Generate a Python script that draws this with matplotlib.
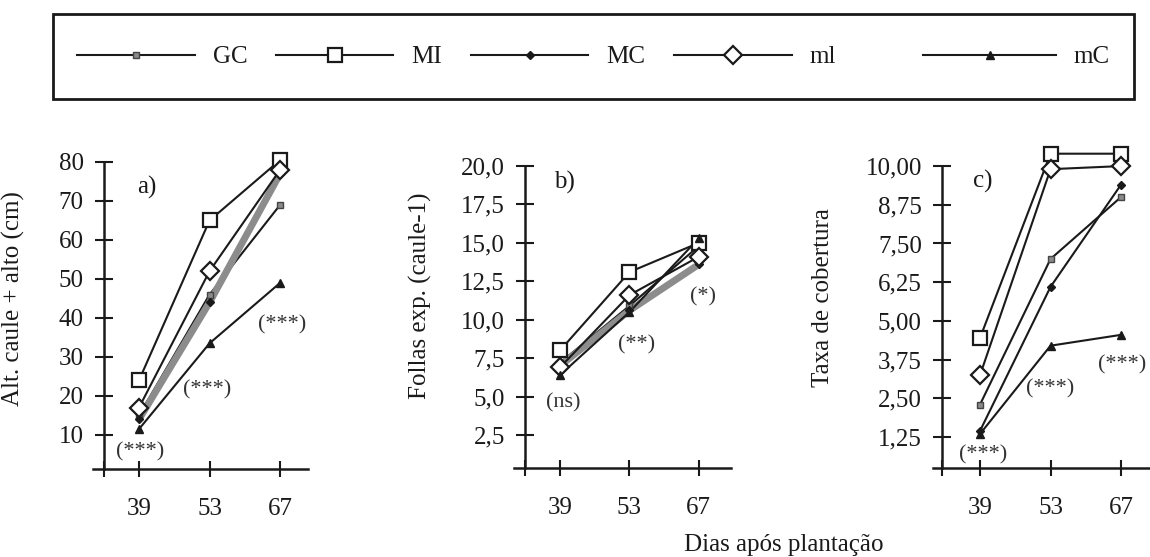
import matplotlib
matplotlib.use('Agg')
import matplotlib.pyplot as plt
from matplotlib.lines import Line2D
from matplotlib.patches import Rectangle

plt.rcParams['font.family'] = ['Liberation Serif', 'DejaVu Serif']
plt.rcParams['font.size'] = 18

W, H = 1150, 557

dias = [39, 53, 67]
series = ['GC', 'MI', 'MC', 'ml', 'mC']

# a) altura do caule (cm)
alt_GC = [15, 46, 69]
alt_MI = [24, 65, 80.5]
alt_MC = [14, 44, 77]
alt_ml = [17, 52, 78]
alt_mC = [11.5, 33.5, 49]

# b) follas expandidas por caule
fol_GC = [7.2, 10.9, 14.8]
fol_MI = [8.0, 13.1, 15.0]
fol_MC = [7.0, 10.6, 13.6]
fol_ml = [6.9, 11.6, 14.1]
fol_mC = [6.4, 10.5, 15.3]

# c) taxa de cobertura
cob_GC = [2.3, 7.0, 9.0]
cob_MI = [4.45, 10.4, 10.4]
cob_MC = [1.45, 6.1, 9.4]
cob_ml = [3.25, 9.9, 10.0]
cob_mC = [1.35, 4.2, 4.55]

yt_a = [10, 20, 30, 40, 50, 60, 70, 80]
yl_a = ['10', '20', '30', '40', '50', '60', '70', '80']
yt_b = [2.5, 5.0, 7.5, 10.0, 12.5, 15.0, 17.5, 20.0]
yl_b = ['2,5', '5,0', '7,5', '10,0', '12,5', '15,0', '17,5', '20,0']
yt_c = [1.25, 2.50, 3.75, 5.00, 6.25, 7.50, 8.75, 10.00]
yl_c = ['1,25', '2,50', '3,75', '5,00', '6,25', '7,50', '8,75', '10,00']

sig_a = ['(***)', '(***)', '(***)']
sig_b = ['(ns)', '(**)', '(*)']
sig_c = ['(***)', '(***)', '(***)']

ink = '#1a1a1a'
style = {
    'GC': dict(marker='s', ms=4.5, mfc='#8a8a8a', mec='#444444', mew=1),
    'MI': dict(marker='s', ms=10, mfc='white', mec=ink, mew=1.6),
    'MC': dict(marker='D', ms=4, mfc=ink, mec=ink, mew=1),
    'ml': dict(marker='D', ms=9.5, mfc='white', mec=ink, mew=1.6),
    'mC': dict(marker='^', ms=5.5, mfc=ink, mec=ink, mew=1),
}

fig = plt.figure(figsize=(W / 100, H / 100), dpi=100)


def panel(px, xlim, ylim, spine_x, top, vals, yt, yl, grey_mc, letter, letter_xy,
          sig, sig_xy, ylabel, ylab_px):
    left, right, bottom, topp = px
    ax = fig.add_axes([left / W, 1 - bottom / H, (right - left) / W, (bottom - topp) / H])
    ax.set_xlim(*xlim)
    ax.set_ylim(*ylim)
    for name, v in zip(series, vals):
        if name == 'MC' and grey_mc:
            ax.plot(dias, v, color='#8c8c8c', lw=5, solid_capstyle='butt', clip_on=False, zorder=2)
        else:
            ax.plot(dias, v, color=ink, lw=1.5, clip_on=False, zorder=2)
    for name, v in zip(series, vals):
        ax.plot(dias, v, ls='none', clip_on=False, zorder=3, **style[name])
    for s in ['top', 'right']:
        ax.spines[s].set_visible(False)
    ax.spines['left'].set_position(('data', spine_x))
    ax.spines['left'].set_bounds(ylim[0], top)
    for s in ['left', 'bottom']:
        ax.spines[s].set_linewidth(1.8)
        ax.spines[s].set_color(ink)
    ax.set_xticks([spine_x] + dias)
    ax.set_xticklabels([''] + [str(d) for d in dias])
    ax.set_yticks(yt)
    ax.set_yticklabels(yl)
    ax.tick_params(axis='x', direction='inout', length=12, width=1.5, pad=15, colors=ink)
    ax.tick_params(axis='y', direction='inout', length=13, width=1.5, pad=8, colors=ink)
    ax.text(letter_xy[0], letter_xy[1], letter, ha='center', va='center', color=ink)
    for t, (x, y) in zip(sig, sig_xy):
        ax.text(x, y, t, ha='center', va='center', fontsize=16, color='#333333')
    ax.set_ylabel(ylabel, color=ink)
    ax.yaxis.set_label_coords(ylab_px[0] / W, 1 - ylab_px[1] / H, transform=fig.transFigure)
    return ax


panel((92.6, 308.3, 469, 154.2), (29.8, 72.6), (1.28, 82), 32, 80,
      [alt_GC, alt_MI, alt_MC, alt_ml, alt_mC], yt_a, yl_a, True,
      'a)', (40.6, 73.6), sig_a, [(39.2, 5.6), (52.5, 21.5), (67.4, 38.2)],
      'Alt. caule + alto (cm)', (25, 299))

panel((514.4, 731.1, 468, 158.3), (29.8, 73.5), (0.353, 20.5), 32, 20,
      [fol_GC, fol_MI, fol_MC, fol_ml, fol_mC], yt_b, yl_b, True,
      'b)', (40.0, 18.96), sig_b, [(39.6, 4.58), (54.5, 8.35), (67.8, 11.48)],
      'Follas exp. (caule-1)', (432, 296))

panel((933.2, 1158.8, 468, 147.5), (29.7, 74.5), (0.25, 10.6), 31.45, 10,
      [cob_GC, cob_MI, cob_MC, cob_ml, cob_mC], yt_c, yl_c, False,
      'c)', (39.6, 9.49), sig_c, [(39.6, 0.67), (52.9, 2.8), (67.2, 3.58)],
      'Taxa de cobertura', (834, 298))

fig.text(784 / W, 1 - 545 / H, 'Dias após plantação', ha='center', va='center', color=ink)

# legend box
fig.patches.append(Rectangle((53 / W, 1 - 99 / H), 1081 / W, 85 / H, transform=fig.transFigure,
                             fill=False, edgecolor=ink, lw=2))
handles = [Line2D([0], [0], color=ink, lw=1.5, **style[n]) for n in series]
leg1 = fig.legend(handles[:4], series[:4], ncol=4, loc='center left',
                  bbox_to_anchor=(77 / W, 1 - 57 / H),
                  frameon=False, handlelength=4.7, handletextpad=0.72,
                  columnspacing=1.15, borderpad=0, fontsize=18, borderaxespad=0)
leg2 = fig.legend(handles[4:], series[4:], ncol=1, loc='center right',
                  bbox_to_anchor=(1110 / W, 1 - 57 / H),
                  frameon=False, handlelength=5.3, handletextpad=0.72,
                  borderpad=0, fontsize=18, borderaxespad=0)
for leg in (leg1, leg2):
    for t in leg.get_texts():
        t.set_color(ink)

fig.savefig('out.png', dpi=100)
